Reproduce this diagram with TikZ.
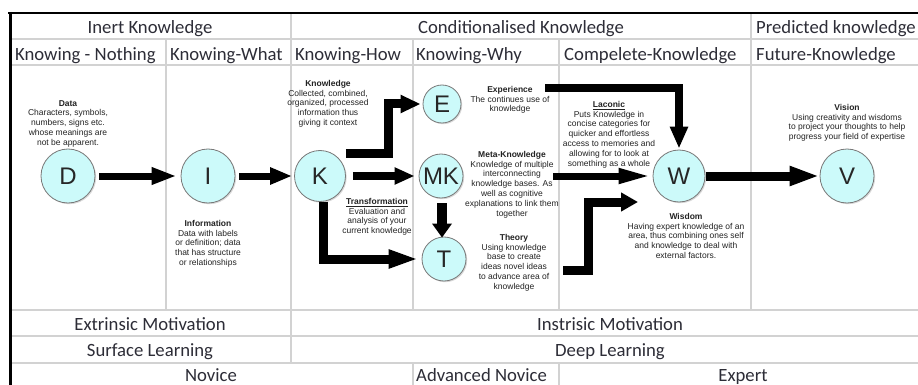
\documentclass[tikz,border=0pt]{standalone}
\usepackage{fontspec}
\setmainfont{Carlito}
\newfontfamily\arialf{Liberation Sans}
\usetikzlibrary{arrows.meta,shadows,calc}
\definecolor{hdrc}{RGB}{45,45,55}
\definecolor{gridc}{RGB}{210,210,210}
\definecolor{cyanf}{RGB}{204,250,250}
\definecolor{circd}{RGB}{120,120,120}
\definecolor{smalltxt}{RGB}{35,35,35}
\begin{document}
\begin{tikzpicture}[x=1pt,y=-1pt,
  hdr/.style={font=\fontsize{18.7}{20}\selectfont, text=hdrc, inner sep=0pt, anchor=base},
  hdrl/.style={hdr, anchor=base west},
  gridl/.style={draw=gridc, line width=1.4pt},
  circ/.style={circle, draw=circd, line width=0.8pt, fill=cyanf, minimum size=#1, inner sep=0pt,
    font=\arialf\fontsize{24}{24}\selectfont, text=black!85,
    drop shadow={shadow xshift=1.2pt, shadow yshift=-1.2pt, fill=black!30}},
  desc/.style={font=\arialf\fontsize{8.5}{9.8}\selectfont, align=center, inner sep=0pt, anchor=north, text=smalltxt},
  arr/.style={draw=black, line width=#1, -{Triangle[length=22pt,width=17pt]}},
]
\useasboundingbox (0,0) rectangle (918,385);
\fill[white] (0,0) rectangle (918,385);
\clip (0,0) rectangle (918,385);

% grid
\draw[gridl] (10,39) -- (930,39);
\draw[gridl] (10,65) -- (930,65);
\draw[gridl] (10,310) -- (930,310);
\draw[gridl] (10,336) -- (930,336);
\draw[gridl] (10,363) -- (930,363);
\draw[gridl] (291,13) -- (291,363);
\draw[gridl] (751,13) -- (751,310);
\draw[gridl] (166,39) -- (166,310);
\draw[gridl] (413,39) -- (413,310);
\draw[gridl] (559,39) -- (559,310);
\draw[gridl] (413,363) -- (413,390);
\draw[gridl] (559,363) -- (559,390);
\draw[black, line width=2pt] (8,13) -- (930,13);
\draw[black, line width=3pt] (10,12) -- (10,390);

% header texts
\node[hdr] (h1) at (150,34) {Inert Knowledge};
\node[hdr] (h2) at (521,34) {Conditionalised Knowledge};
\node[hdrl] (h3) at (756,34) {Predicted knowledge};
\node[hdrl] (c1) at (15,61) {Knowing - Nothing};
\node[hdrl] (c2) at (170,61) {Knowing-What};
\node[hdrl] (c3) at (295,61) {Knowing-How};
\node[hdrl] (c4) at (416,61) {Knowing-Why};
\node[hdrl] (c5) at (564,61) {Compelete-Knowledge};
\node[hdrl] (c6) at (756,61) {Future-Knowledge};
\node[hdr] (b1) at (150,330) {Extrinsic Motivation};
\node[hdr] (b2) at (610,330) {Instrisic Motivation};
\node[hdr] (b3) at (150,356) {Surface Learning};
\node[hdr] (b4) at (610,356) {Deep Learning};
\node[hdr] (b5) at (211,381) {Novice};
\node[hdrl] (b6) at (416,381) {Advanced Novice};
\node[hdr] (b7) at (743,381) {Expert};

% circles
\node[circ=54pt] (D) at (68,176) {D};
\node[circ=54pt] (I) at (208,176) {I};
\node[circ=51pt] (K) at (320,176) {K};
\node[circ=38pt] (E) at (442,104) {E};
\node[circ=44pt] (MK) at (441,176) {MK};
\node[circ=44pt] (T) at (444,259) {T};
\node[circ=52pt] (W) at (679,176) {W};
\node[circ=54pt] (V) at (847,176) {V};

% free ends
\coordinate (bKE) at (388,104);
\coordinate (eWs) at (545,88);
\coordinate (mWs) at (553,176);
\coordinate (tWs) at (563,270);
\coordinate (tWb) at (588,202);
\coordinate (tWe) at (638,202);

% arrows
\draw[arr=7pt, -{Triangle[length=25pt,width=16pt]}] ([xshift=4pt]D.east) -- ([xshift=-4pt]I.west);
\draw[arr=7pt, -{Triangle[length=22pt,width=16pt]}] ([xshift=4pt]I.east) -- ([xshift=-2pt]K.west);
\draw[arr=9pt, -{Triangle[length=20pt,width=17pt]}] ([shift={(6pt,6pt)}]K.40) -| (bKE) -- ([xshift=-2pt]E.west);
\draw[arr=8pt, -{Triangle[length=20pt,width=16pt]}] ([xshift=7pt]K.east) -- ([xshift=-4pt]MK.west);
\draw[arr=9pt, -{Triangle[length=30pt,width=17pt]}] ([xshift=3pt]K.south) |- ([xshift=-3pt]T.west);
\draw[arr=10pt, -{Triangle[length=14pt,width=19pt]}] ($(MK.south)+(1,5)$) -- ($(MK.south |- T.north)+(1,1)$);
\draw[arr=8pt, -{Triangle[length=22pt,width=17pt]}] (eWs) -| ([yshift=1pt]W.north);
\draw[arr=7pt, -{Triangle[length=33pt,width=14pt]}] (mWs) -- ([xshift=-1pt]W.west);
\draw[arr=9pt, -{Triangle[length=17pt,width=18pt]}] (tWs) -| (tWb) -- (tWe);
\draw[arr=9pt, -{Triangle[length=30pt,width=18pt]}] ([xshift=1pt]W.east) -- (V.west);

% descriptions
\node[desc] (tD) at (68,100) {\textbf{Data}\\Characters, symbols,\\numbers, signs etc.\\whose meanings are\\not be apparent.};
\node[desc] (tI) at (208,220) {\textbf{Information}\\Data with labels\\or definition; data\\that has structure\\or relationships};
\node[desc] (tK) at (328,80) {\textbf{Knowledge}\\Collected, combined,\\organized, processed\\information thus\\giving it context};
\node[desc] (tTr) at (377,198) {\textbf{\underline{Transformation}}\\Evaluation and\\analysis of your\\current knowledge};
\node[desc] (tE) at (510,86) {\textbf{Experience}\\The continues use of\\knowledge};
\node[desc] (tMK) at (512,151) {\textbf{Meta-Knowledge}\\Knowledge of multiple\\interconnecting\\knowledge bases. As\\well as cognitive\\explanations to link them\\together};
\node[desc] (tTh) at (514,234) {\textbf{Theory}\\Using knowledge\\base to create\\ideas novel ideas\\to advance area of\\knowledge};
\node[desc] (tL) at (609,101) {\textbf{\underline{Laconic}}\\Puts Knowledge in\\concise categories for\\quicker and effortless\\access to memories and\\allowing for to look at\\something as a whole};
\node[desc] (tW) at (686,213) {\textbf{Wisdom}\\Having expert knowledge of an\\area, thus combining ones self\\and knowledge to deal with\\external factors.};
\node[desc] (tV) at (847,104) {\textbf{Vision}\\Using creativity and wisdoms\\to project your thoughts to help\\progress your field of expertise};
\end{tikzpicture}
\end{document}
